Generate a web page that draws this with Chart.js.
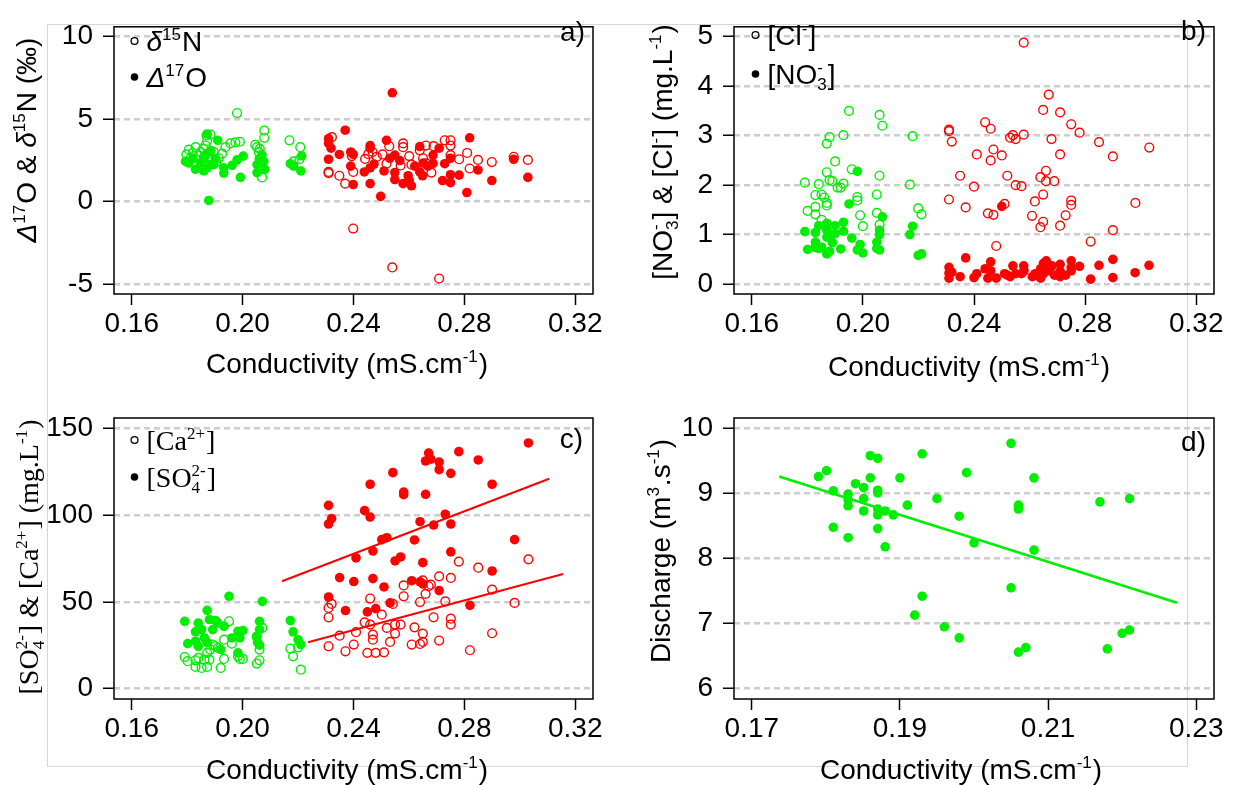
<!DOCTYPE html>
<html>
<head>
<meta charset="utf-8">
<script src="https://cdn.jsdelivr.net/npm/chart.js@4.4.1/dist/chart.umd.min.js"></script>
<style>
  body { margin: 0; background: #fff; }
  #wrap { position: relative; width: 1235px; height: 785px; overflow: hidden; }
  .frame { position: absolute; left: 47px; top: 24px; width: 1139px; height: 741px; border: 1px solid #d6d6d6; }
  canvas { position: absolute; }
</style>
</head>
<body>
<div id="wrap">
  <div class="frame"></div>
  <canvas id="pa" width="617" height="390" style="left:0;top:0"></canvas>
  <canvas id="pb" width="618" height="390" style="left:617px;top:0"></canvas>
  <canvas id="pc" width="617" height="395" style="left:0;top:390px"></canvas>
  <canvas id="pd" width="618" height="395" style="left:617px;top:390px"></canvas>
</div>
<script>
// ---- tick labels ----
const condTicks = [0.16, 0.20, 0.24, 0.28, 0.32];
const isoTicks = [-5, 0, 5, 10];
const ionTicks = [0, 1, 2, 3, 4, 5];
const majorTicks = [0, 50, 100, 150];
const dischargeCondTicks = [0.17, 0.19, 0.21, 0.23];
const dischargeTicks = [6, 7, 8, 9, 10];

// ---- a) isotopes vs conductivity: [conductivity, value] ----
const d15nGreen = [[0.1797,2.86],[0.1806,3.15],[0.1812,2.63],[0.1830,3.30],[0.1848,3.01],[0.1870,4.01],[0.1872,3.68],
  [0.1884,4.07],[0.1866,3.40],[0.1896,3.01],[0.1926,2.91],[0.1938,3.30],[0.1956,3.53],[0.1974,3.59],[0.1990,3.63],
  [0.1914,2.63],[0.1980,5.37],[0.2046,3.45],[0.2052,3.30],[0.2062,3.20],[0.2058,3.01],[0.2078,4.30],[0.2078,3.87],
  [0.2070,1.47],[0.2169,3.72],[0.2208,3.30],[0.2205,2.57],[0.2184,2.44],[0.1820,2.95],[0.1840,2.80],[0.1858,3.20],
  [0.1880,2.75],[0.1905,2.40],[0.1860,2.70]];
const d17oGreen = [[0.1794,2.44],[0.1806,2.34],[0.1830,1.96],[0.1860,1.86],[0.1872,2.05],[0.1884,2.24],[0.1902,2.63],
  [0.1932,2.05],[0.1932,1.73],[0.1962,2.20],[0.1980,2.53],[0.2002,2.76],[0.1992,1.47],[0.2052,2.24],[0.2052,1.76],
  [0.2076,2.44],[0.2080,1.96],[0.2070,2.82],[0.2172,2.30],[0.2184,2.15],[0.1878,0.07],[0.1872,4.10],[0.1910,3.72],
  [0.1848,2.34],[0.1860,2.63],[0.1896,2.24],[0.1820,2.60],[0.1870,2.90],[0.1885,3.10],[0.2210,1.86],[0.2213,2.78],[0.2060,2.60]];
const d15nRed = [[0.2322,3.91],[0.2310,1.80],[0.2310,1.73],[0.2349,1.57],[0.2370,1.09],[0.2399,1.80],[0.2399,-1.63],
  [0.2394,2.76],[0.2442,2.59],[0.2453,2.88],[0.2469,3.01],[0.2484,2.72],[0.2505,2.86],[0.2529,3.36],[0.2519,2.30],
  [0.2540,-3.99],[0.2570,2.19],[0.2579,3.53],[0.2579,3.30],[0.2601,2.76],[0.2609,2.24],[0.2639,3.11],[0.2651,2.63],
  [0.2661,3.40],[0.2681,1.76],[0.2689,3.36],[0.2709,-4.66],[0.2729,3.72],[0.2750,3.72],[0.2750,3.40],[0.2750,2.82],
  [0.2781,2.57],[0.2810,2.95],[0.2819,2.01],[0.2849,2.53],[0.2899,2.40],[0.2978,2.72],[0.3029,2.53],[0.2663,2.32]];
const d17oRed = [[0.2540,6.60],[0.2370,4.33],[0.2310,3.82],[0.2310,3.53],[0.2319,3.24],[0.2310,2.57],[0.2349,2.86],
  [0.2390,3.01],[0.2399,2.86],[0.2390,2.15],[0.2399,1.04],[0.2460,3.40],[0.2460,3.24],[0.2460,1.09],[0.2439,1.80],
  [0.2460,2.05],[0.2474,2.28],[0.2498,0.32],[0.2510,1.86],[0.2519,3.72],[0.2531,2.63],[0.2549,2.82],[0.2549,1.76],
  [0.2549,1.34],[0.2567,2.49],[0.2579,1.09],[0.2597,1.57],[0.2601,1.28],[0.2609,0.96],[0.2621,2.15],[0.2639,3.34],
  [0.2639,1.80],[0.2649,1.57],[0.2651,2.34],[0.2669,2.15],[0.2687,2.82],[0.2687,2.32],[0.2709,3.24],[0.2721,1.28],
  [0.2729,2.30],[0.2750,2.63],[0.2750,1.63],[0.2750,1.15],[0.2781,1.61],[0.2809,0.55],[0.2819,3.87],[0.2849,1.92],
  [0.2899,1.28],[0.2978,2.57],[0.3029,1.47]];

// ---- b) [Cl-] and [NO3-] (mg/L) ----
const clGreen = [[0.1791,2.05],[0.1801,1.48],[0.1829,1.80],[0.1829,1.56],[0.1829,1.41],[0.1841,2.02],[0.1851,1.81],
  [0.1851,1.30],[0.1861,1.75],[0.1870,1.64],[0.1870,1.59],[0.1870,2.84],[0.1870,2.26],[0.1880,2.97],[0.1880,2.10],
  [0.1890,2.08],[0.1900,2.48],[0.1909,1.95],[0.1920,1.95],[0.1930,2.03],[0.1930,3.01],[0.1950,3.50],[0.1960,2.32],
  [0.1980,1.76],[0.1980,1.69],[0.1990,1.39],[0.2000,1.17],[0.2050,1.81],[0.2050,1.44],[0.2060,3.42],[0.2060,2.19],
  [0.2060,1.20],[0.2070,3.20],[0.2169,2.01],[0.2179,2.99],[0.2199,1.53],[0.2211,1.41]];
const no3Green = [[0.1791,1.06],[0.1801,0.70],[0.1829,1.04],[0.1829,0.85],[0.1829,0.74],[0.1841,1.18],[0.1841,0.72],
  [0.1851,0.75],[0.1870,1.23],[0.1870,1.09],[0.1870,0.95],[0.1870,0.61],[0.1880,0.66],[0.1880,0.95],[0.1890,0.84],
  [0.1900,1.18],[0.1900,1.02],[0.1920,0.71],[0.1930,1.07],[0.1930,1.25],[0.1950,1.62],[0.1960,0.93],[0.1980,2.28],
  [0.1980,0.69],[0.1990,0.80],[0.2000,0.63],[0.2050,0.85],[0.2050,0.72],[0.2060,1.09],[0.2060,0.69],[0.2070,1.36],
  [0.2060,1.00],[0.2169,1.00],[0.2179,1.17],[0.2199,0.58],[0.2211,0.61]];
const clRed = [[0.2310,3.12],[0.2310,3.09],[0.2320,2.88],[0.2310,1.71],[0.2350,2.19],[0.2370,1.55],[0.2400,1.97],
  [0.2410,2.62],[0.2440,3.27],[0.2460,3.14],[0.2470,2.72],[0.2460,2.50],[0.2450,1.43],[0.2470,1.40],[0.2480,0.77],
  [0.2500,2.60],[0.2510,1.62],[0.2520,2.19],[0.2530,2.96],[0.2540,3.01],[0.2550,2.93],[0.2550,2.00],[0.2571,1.98],
  [0.2579,4.88],[0.2579,3.02],[0.2609,1.38],[0.2619,1.67],[0.2639,2.16],[0.2639,1.15],[0.2649,3.52],[0.2649,1.81],
  [0.2649,1.26],[0.2659,2.29],[0.2659,2.08],[0.2669,3.83],[0.2679,2.93],[0.2689,2.08],[0.2710,3.47],[0.2710,2.62],
  [0.2710,1.18],[0.2730,1.39],[0.2750,3.23],[0.2750,1.69],[0.2750,1.60],[0.2780,3.06],[0.2820,0.86],[0.2850,2.87],
  [0.2900,2.58],[0.2900,1.09],[0.2981,1.64],[0.3031,2.76]];
const no3Red = [[0.2310,0.34],[0.2310,0.22],[0.2310,0.12],[0.2320,0.24],[0.2370,0.53],[0.2350,0.15],[0.2400,0.13],
  [0.2410,0.21],[0.2440,0.31],[0.2450,0.12],[0.2460,0.45],[0.2460,0.27],[0.2480,0.12],[0.2500,1.57],[0.2510,0.21],
  [0.2520,0.18],[0.2530,0.15],[0.2540,0.37],[0.2550,0.21],[0.2571,0.21],[0.2579,0.37],[0.2580,0.27],[0.2610,0.15],
  [0.2620,0.21],[0.2640,0.12],[0.2640,0.31],[0.2650,0.42],[0.2650,0.21],[0.2660,0.34],[0.2660,0.47],[0.2670,0.27],
  [0.2680,0.37],[0.2690,0.18],[0.2710,0.40],[0.2710,0.26],[0.2710,0.15],[0.2730,0.18],[0.2750,0.47],[0.2750,0.34],
  [0.2750,0.27],[0.2780,0.36],[0.2820,0.10],[0.2850,0.38],[0.2900,0.50],[0.2900,0.13],[0.2980,0.23],[0.3030,0.38]];

// ---- c) [Ca2+] and [SO4 2-] (mg/L) ----
const caGreen = [[0.1791,18.2],[0.1802,15.8],[0.1830,16.3],[0.1830,12.5],[0.1840,17.7],[0.1852,11.9],[0.1862,16.7],
  [0.1872,12.5],[0.1872,20.6],[0.1880,16.7],[0.1883,22.5],[0.1892,25.4],[0.1902,24.4],[0.1911,23.4],[0.1921,11.9],
  [0.1933,28.2],[0.1933,17.1],[0.1951,38.8],[0.1961,25.9],[0.1983,18.6],[0.1990,17.1],[0.2001,17.1],[0.2051,29.8],
  [0.2051,14.4],[0.2061,16.3],[0.2061,22.5],[0.2071,35.0],[0.2172,23.1],[0.2182,18.6],[0.2200,23.8],[0.2210,10.9]];
const so4Green = [[0.1791,38.8],[0.1802,25.9],[0.1830,32.7],[0.1840,37.8],[0.1830,27.3],[0.1840,24.4],[0.1852,34.0],
  [0.1862,29.2],[0.1872,45.1],[0.1872,26.7],[0.1880,39.8],[0.1892,34.0],[0.1902,39.2],[0.1911,37.8],[0.1921,22.5],
  [0.1933,35.9],[0.1951,53.2],[0.1961,29.2],[0.1983,33.0],[0.1990,29.2],[0.1983,20.6],[0.2001,33.4],[0.2051,30.2],
  [0.2061,38.8],[0.2061,34.0],[0.2071,50.3],[0.2054,26.7],[0.2061,25.0],[0.2172,39.2],[0.2182,32.7],[0.2200,28.2],[0.2210,25.4]];
const caRed = [[0.2310,46.5],[0.2310,41.1],[0.2321,48.8],[0.2310,24.4],[0.2350,30.5],[0.2371,21.5],[0.2401,25.4],
  [0.2409,32.5],[0.2440,38.2],[0.2460,51.9],[0.2460,36.9],[0.2470,31.1],[0.2470,28.2],[0.2450,20.6],[0.2480,20.6],
  [0.2502,42.6],[0.2510,20.9],[0.2520,35.0],[0.2542,48.8],[0.2532,26.9],[0.2550,31.7],[0.2550,36.9],[0.2570,36.9],
  [0.2581,59.5],[0.2581,53.2],[0.2620,35.3],[0.2610,25.4],[0.2640,49.9],[0.2640,25.7],[0.2650,26.9],[0.2650,31.7],
  [0.2650,62.4],[0.2660,54.6],[0.2671,59.0],[0.2679,59.9],[0.2689,41.1],[0.2709,64.7],[0.2709,27.7],[0.2731,50.3],
  [0.2751,40.3],[0.2751,36.9],[0.2751,63.8],[0.2780,73.2],[0.2820,22.1],[0.2850,69.7],[0.2900,57.0],[0.2900,31.9],
  [0.2981,49.4],[0.3031,74.5]];
const so4Red = [[0.2310,105.6],[0.2310,94.9],[0.2321,98.0],[0.2310,52.8],[0.2350,64.0],[0.2371,45.0],[0.2409,75.3],
  [0.2401,61.7],[0.2440,102.6],[0.2460,117.8],[0.2460,98.9],[0.2470,79.3],[0.2470,63.4],[0.2450,44.2],[0.2480,46.1],
  [0.2502,85.9],[0.2520,87.0],[0.2510,58.6],[0.2532,49.4],[0.2542,124.5],[0.2550,73.6],[0.2570,75.9],[0.2581,113.3],
  [0.2581,111.8],[0.2610,62.2],[0.2620,85.7],[0.2640,96.2],[0.2640,61.5],[0.2650,72.6],[0.2660,131.2],[0.2660,112.0],
  [0.2671,135.8],[0.2679,132.3],[0.2651,60.3],[0.2689,94.3],[0.2709,130.6],[0.2709,126.2],[0.2709,56.5],[0.2731,100.5],
  [0.2751,124.1],[0.2751,94.9],[0.2751,78.8],[0.2780,136.6],[0.2820,48.0],[0.2850,131.8],[0.2900,117.8],[0.2900,67.8],
  [0.2981,85.9],[0.3031,141.6]];
// fitted lines (end points)
const so4FitX = [0.2142, 0.3106];
const so4FitY = [61.9, 121.0];
const caFitX = [0.2236, 0.3156];
const caFitY = [26.7, 66.1];

// ---- d) discharge vs conductivity ----
const dischargeGreen = [[0.1790,9.26],[0.1801,9.35],[0.1810,9.04],[0.1810,8.48],[0.1830,8.99],[0.1830,8.90],[0.1830,8.81],
  [0.1830,8.32],[0.1840,9.15],[0.1851,9.09],[0.1851,8.92],[0.1851,8.73],[0.1860,9.58],[0.1860,9.24],[0.1870,9.54],
  [0.1870,9.05],[0.1870,9.01],[0.1870,8.76],[0.1870,8.67],[0.1870,8.46],[0.1880,8.73],[0.1880,8.18],[0.1891,8.67],
  [0.1900,9.24],[0.1910,8.82],[0.1920,7.13],[0.1930,9.61],[0.1930,7.42],[0.1950,8.92],[0.1960,6.95],[0.1980,8.65],
  [0.1980,6.78],[0.1990,9.32],[0.2000,8.24],[0.2050,9.77],[0.2050,7.55],[0.2060,8.82],[0.2060,8.76],[0.2060,6.56],
  [0.2070,6.63],[0.2081,9.24],[0.2081,8.13],[0.2170,8.87],[0.2180,6.61],[0.2200,6.85],[0.2210,8.92],[0.2210,6.90]];
const dischargeFitX = [0.1737, 0.2274];
const dischargeFitY = [9.26, 7.32];

const SANS = "'Liberation Sans', Arial, Helvetica, sans-serif";
const SERIF = "'Liberation Serif', 'DejaVu Serif', serif";
const GREEN = '#00ee00';
const RED = '#ff0000';
const BASE = 28, SMALL = 17;

const xy = (pairs) => pairs.map(([x, y]) => ({ x, y }));

function openSet(pairs, color) {
  return { data: xy(pairs), pointRadius: 4.4, borderWidth: 1.4, borderColor: color, backgroundColor: 'rgba(0,0,0,0)' };
}
function dotSet(pairs, color) {
  return { data: xy(pairs), pointRadius: 4.8, borderWidth: 0, borderColor: color, backgroundColor: color };
}
function fitSet(xs, ys, color, w) {
  return { type: 'line', data: xs.map((x, i) => ({ x, y: ys[i] })), borderColor: color, borderWidth: w,
    pointRadius: 0, showLine: true, fill: false };
}

// rich text segments: plain strings, {t, i} (italic), {sup, sub}
function segWidth(ctx, s, fam) {
  if (typeof s === 'string') { ctx.font = BASE + 'px ' + fam; return ctx.measureText(s).width; }
  if (s.t) { ctx.font = (s.i ? 'italic ' : '') + BASE + 'px ' + fam; return ctx.measureText(s.t).width; }
  ctx.font = SMALL + 'px ' + fam;
  return Math.max(s.sup ? ctx.measureText(s.sup).width : 0, s.sub ? ctx.measureText(s.sub).width : 0) + 1;
}
function drawRich(ctx, segs, x, y, fam, center) {
  const total = segs.reduce((a, s) => a + segWidth(ctx, s, fam), 0);
  let cx = center ? x - total / 2 : x;
  ctx.textAlign = 'left';
  ctx.textBaseline = 'alphabetic';
  ctx.fillStyle = '#000';
  for (const s of segs) {
    const w = segWidth(ctx, s, fam);
    if (typeof s === 'string') ctx.fillText(s, cx, y);
    else if (s.t) ctx.fillText(s.t, cx, y);
    else {
      if (s.sup) ctx.fillText(s.sup, cx, y - 11);
      if (s.sub) ctx.fillText(s.sub, cx, y + 6);
    }
    cx += w;
  }
}

const condTitle = ['Conductivity (mS.cm', { sup: '-1' }, ')'];

// box, panel letter, legend and axis titles (R style)
function decor(o) {
  return {
    id: 'decor',
    beforeDatasetsDraw(chart) {
      const { ctx, chartArea: a } = chart;
      ctx.save();
      ctx.strokeStyle = '#000';
      ctx.lineWidth = 1.5;
      ctx.strokeRect(a.left, a.top, a.right - a.left, a.bottom - a.top);
      ctx.restore();
    },
    afterDraw(chart) {
      const { ctx, chartArea: a } = chart;
      ctx.save();
      ctx.font = BASE + 'px ' + SANS;
      ctx.fillStyle = '#000';
      ctx.textAlign = 'right';
      ctx.textBaseline = 'middle';
      ctx.fillText(o.letter, a.right - o.letterDx, o.letterY);
      o.legend.forEach((item, i) => {
        const y = o.legendY[i];
        ctx.beginPath();
        ctx.arc(o.legendX, y, item.open ? 3.4 : 3.8, 0, Math.PI * 2);
        if (item.open) { ctx.lineWidth = 1.3; ctx.strokeStyle = '#000'; ctx.stroke(); }
        else { ctx.fillStyle = '#000'; ctx.fill(); }
        drawRich(ctx, item.text, o.legendX + 12, y + 10, o.legendFont || SANS, false);
      });
      drawRich(ctx, condTitle, o.xTitle[0], o.xTitle[1] + 10, SANS, true);
      ctx.translate(o.yTitle[0], o.yTitle[1]);
      ctx.rotate(-Math.PI / 2);
      drawRich(ctx, o.yTitleText, 0, 10, o.yTitleFont || SANS, true);
      ctx.restore();
    }
  };
}

function makePanel(id, box, xr, yr, xt, yt, datasets, deco) {
  const cv = document.getElementById(id);
  const W = cv.width, H = cv.height;
  new Chart(cv, {
    type: 'scatter',
    data: { datasets },
    options: {
      responsive: false,
      animation: false,
      events: [],
      layout: { autoPadding: false, padding: { left: 0, top: box.t, right: W - box.r, bottom: 0 } },
      plugins: { legend: { display: false }, tooltip: { enabled: false } },
      scales: {
        x: {
          type: 'linear', min: xr[0], max: xr[1],
          afterBuildTicks: (s) => { s.ticks = xt.map((v) => ({ value: v })); },
          afterFit: (s) => { s.height = H - box.b; },
          grid: { drawOnChartArea: false, drawTicks: true, tickLength: 11, tickColor: '#000', tickWidth: 1.5 },
          border: { display: false },
          ticks: { color: '#000', font: { family: SANS, size: BASE }, padding: 2, maxRotation: 0,
            callback: (v) => Number(v).toFixed(2) }
        },
        y: {
          type: 'linear', min: yr[0], max: yr[1],
          afterBuildTicks: (s) => { s.ticks = yt.map((v) => ({ value: v })); },
          afterFit: (s) => { s.width = box.l; },
          grid: { drawOnChartArea: true, color: '#cdcdcd', lineWidth: 2.5, drawTicks: true, tickLength: 11,
            tickColor: '#000', tickWidth: 1.5 },
          border: { display: false, dash: [6, 4] },
          ticks: { color: '#000', font: { family: SANS, size: BASE }, padding: 10, callback: (v) => String(v) }
        }
      }
    },
    plugins: [decor(deco)]
  });
}

// a)
makePanel('pa', { l: 114, t: 14, r: 593, b: 294 }, [0.1536, 0.3264], [-5.6, 10.6], condTicks, isoTicks, [
  openSet(d15nGreen, GREEN), dotSet(d17oGreen, GREEN), openSet(d15nRed, RED), dotSet(d17oRed, RED)
], {
  letter: 'a)', letterDx: 8, letterY: 33,
  legendX: 134.5, legendY: [41, 77],
  legend: [
    { open: true, text: [{ t: 'δ', i: 1 }, { sup: '15' }, 'N'] },
    { open: false, text: [{ t: 'Δ', i: 1 }, { sup: '17' }, 'O'] }
  ],
  xTitle: [347, 363],
  yTitle: [26, 140],
  yTitleText: [{ t: 'Δ', i: 1 }, { sup: '17' }, 'O & ', { t: 'δ', i: 1 }, { sup: '15' }, 'N (‰)']
});

// b)
makePanel('pb', { l: 117, t: 14, r: 597, b: 294 }, [0.1536, 0.3264], [-0.2, 5.2], condTicks, ionTicks, [
  openSet(clGreen, GREEN), dotSet(no3Green, GREEN), openSet(clRed, RED), dotSet(no3Red, RED)
], {
  letter: 'b)', letterDx: 8, letterY: 32,
  legendX: 138.5, legendY: [35, 74],
  legend: [
    { open: true, text: ['[Cl', { sup: '-' }, ']'] },
    { open: false, text: ['[NO', { sub: '3', sup: '-' }, ']'] }
  ],
  xTitle: [352, 366],
  yTitle: [45, 152],
  yTitleText: ['[NO', { sub: '3', sup: '-' }, '] & [Cl', { sup: '-' }, '] (mg.L', { sup: '-1' }, ')']
});

// c)
makePanel('pc', { l: 114, t: 28, r: 593, b: 309 }, [0.1536, 0.3264], [-6, 156], condTicks, majorTicks, [
  openSet(caGreen, GREEN), dotSet(so4Green, GREEN), openSet(caRed, RED), dotSet(so4Red, RED),
  fitSet(so4FitX, so4FitY, RED, 2), fitSet(caFitX, caFitY, RED, 2)
], {
  letter: 'c)', letterDx: 10, letterY: 50,
  legendX: 134.5, legendY: [50, 87],
  legendFont: SERIF,
  legend: [
    { open: true, text: ['[Ca', { sup: '2+' }, ']'] },
    { open: false, text: ['[SO', { sub: '4', sup: '2-' }, ']'] }
  ],
  xTitle: [347, 379],
  yTitle: [28, 167],
  yTitleFont: SERIF,
  yTitleText: ['[SO', { sub: '4', sup: '2-' }, '] & [Ca', { sup: '2+' }, '] (mg.L', { sup: '-1' }, ')']
});

// d)
makePanel('pd', { l: 117, t: 28, r: 597, b: 309 }, [0.1676, 0.2324], [5.84, 10.16], dischargeCondTicks, dischargeTicks, [
  dotSet(dischargeGreen, GREEN), fitSet(dischargeFitX, dischargeFitY, GREEN, 2.5)
], {
  letter: 'd)', letterDx: 8, letterY: 53,
  legend: [],
  xTitle: [344, 379],
  yTitle: [43, 161],
  yTitleText: ['Discharge (m', { sup: '3' }, '.s', { sup: '-1' }, ')']
});
</script>
</body>
</html>
